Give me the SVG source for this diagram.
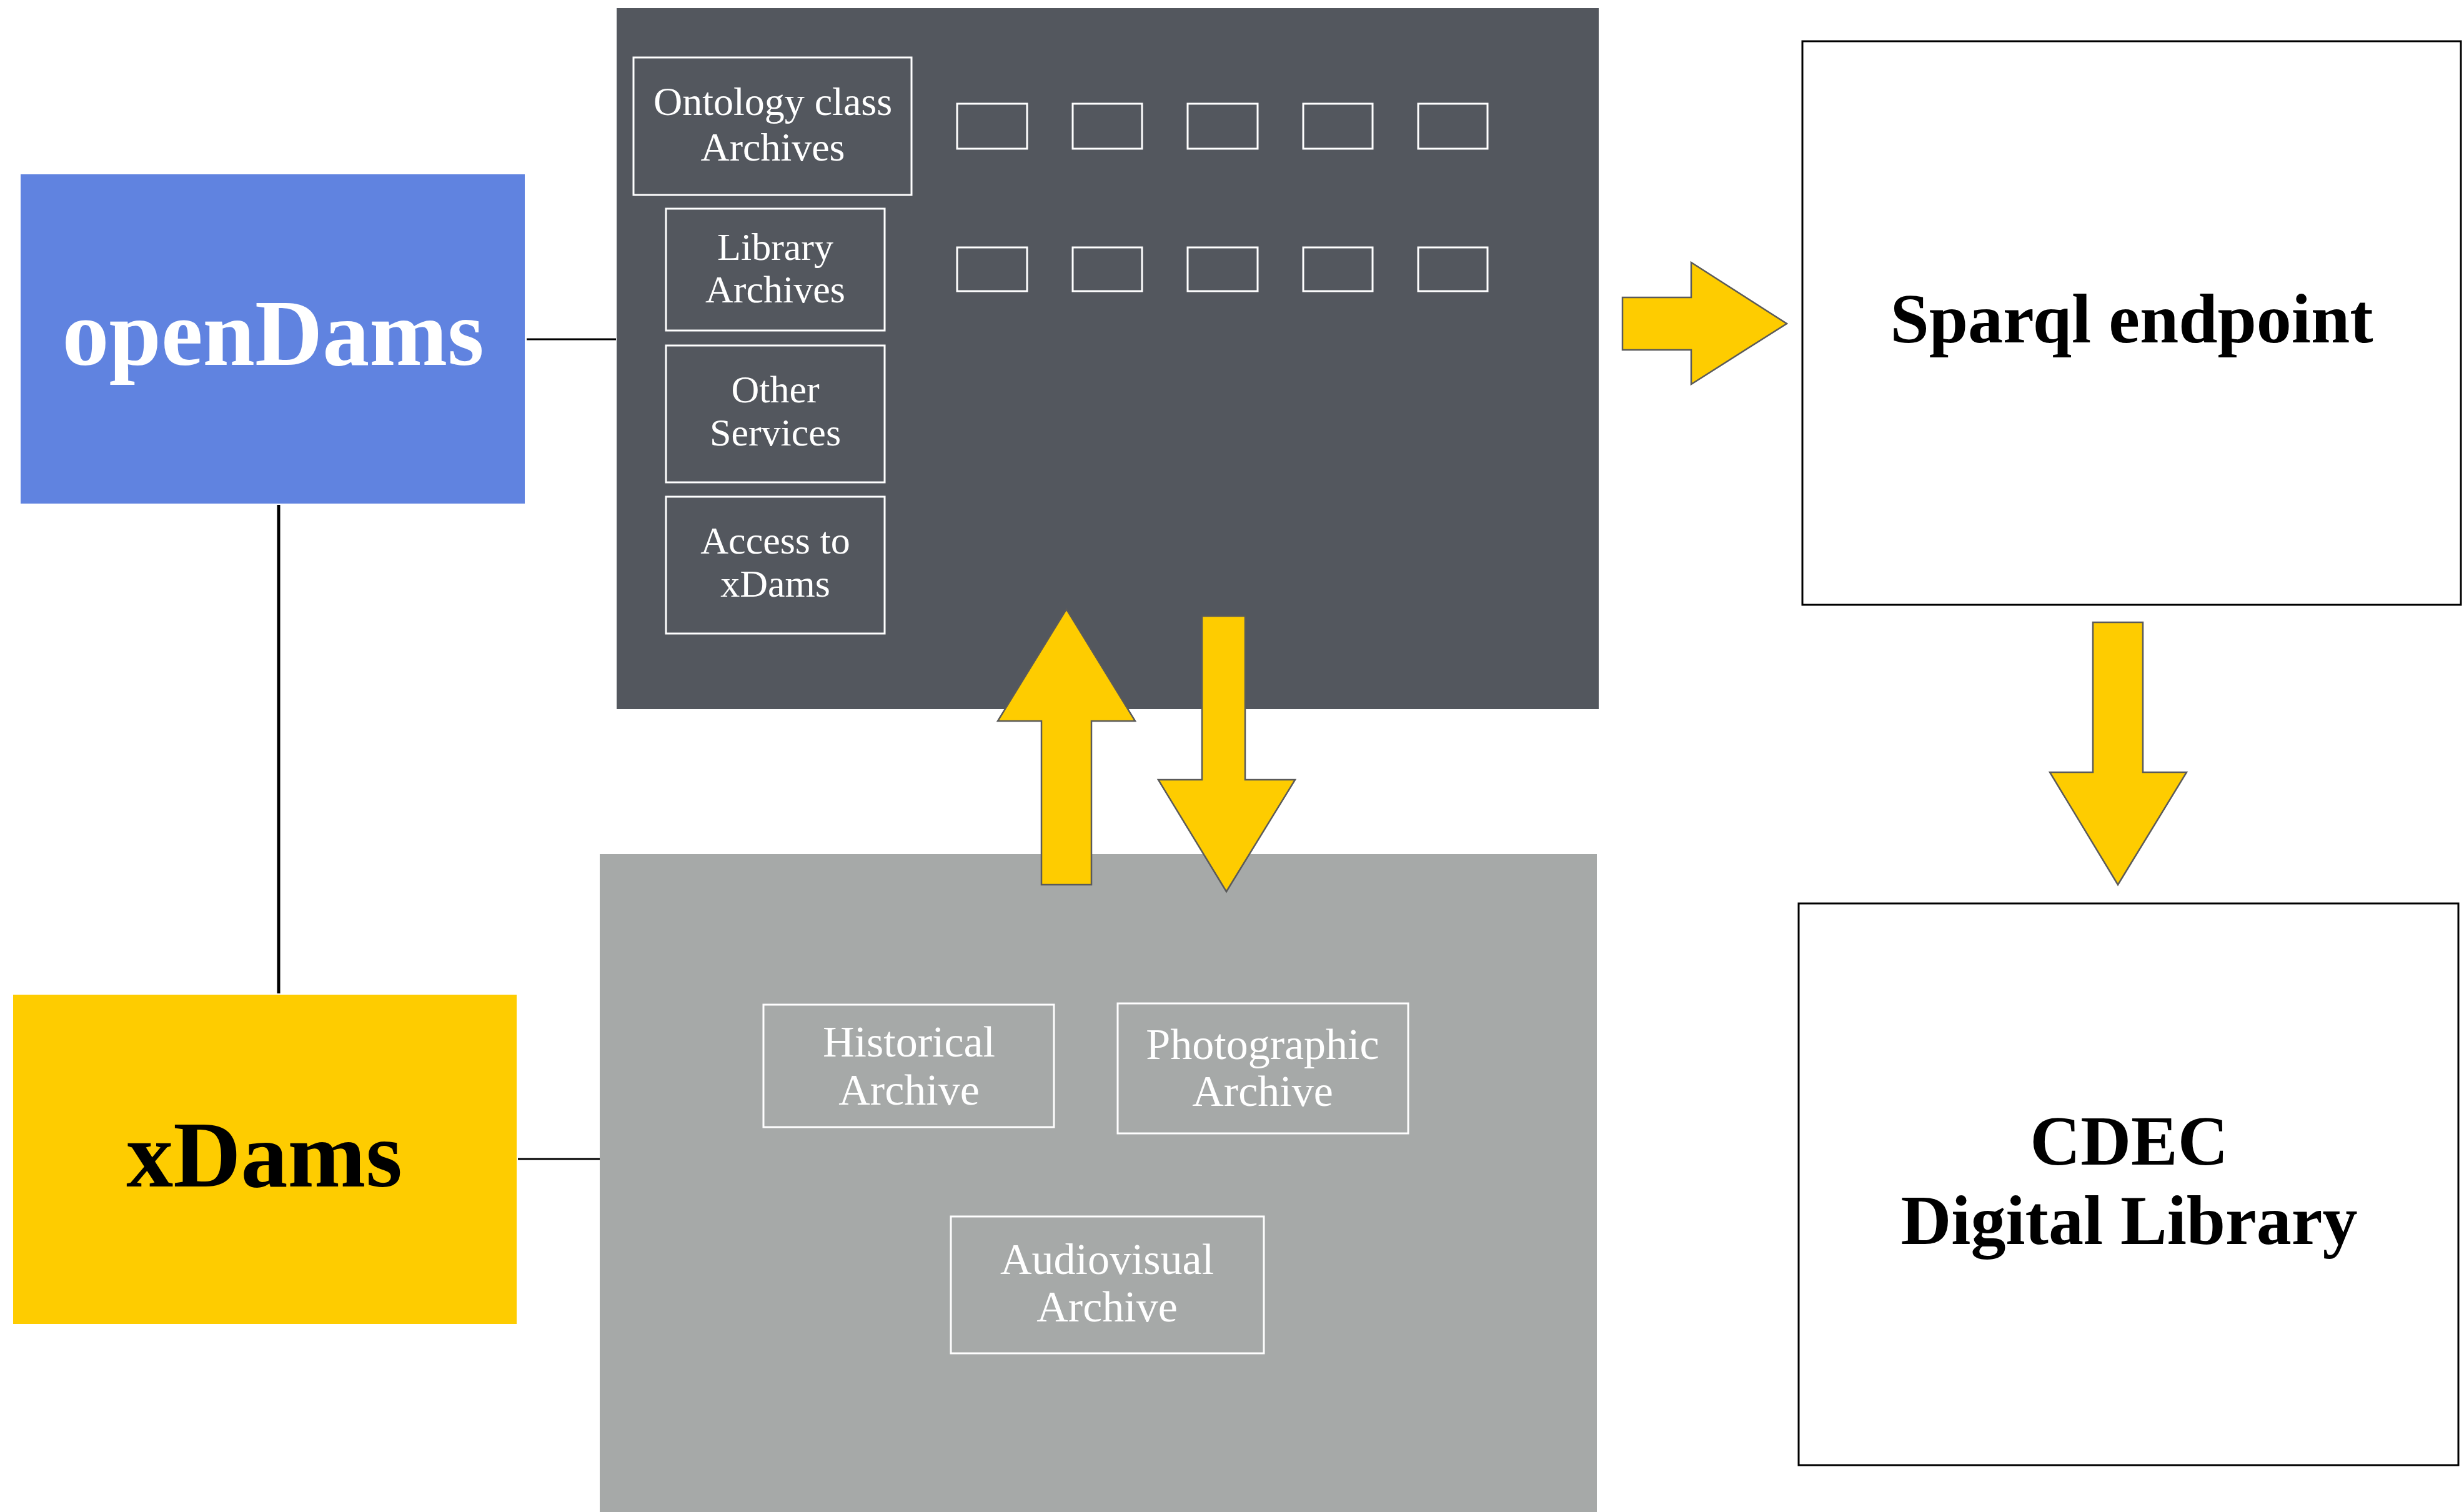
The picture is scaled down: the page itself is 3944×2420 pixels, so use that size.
<svg xmlns="http://www.w3.org/2000/svg" width="3944" height="2420" viewBox="0 0 3944 2420">
<style>
  text { font-family: "Liberation Serif", "Times New Roman", serif; text-anchor: middle; }
  .wbox { fill: none; stroke: #ffffff; stroke-width: 3; }
  .sq { fill: none; stroke: #ffffff; stroke-width: 3; }
  .wt { fill: #ffffff; }
  .bt { fill: #000000; }
  .frame { fill: #ffffff; stroke: #000000; stroke-width: 3; }
  .link { stroke: #000000; fill: none; }
  .arrow { fill: #fecc00; stroke: #5a5a5a; stroke-width: 2.5; stroke-linejoin: miter; }
</style>
<rect width="3944" height="2420" fill="#ffffff"/>

<g id="connectors">
  <line class="link" x1="843" y1="543" x2="986" y2="543" stroke-width="3"/>
  <line class="link" x1="446" y1="808" x2="446" y2="1590" stroke-width="5"/>
  <line class="link" x1="829" y1="1855" x2="960" y2="1855" stroke-width="3"/>
</g>

<g id="opendams">
  <rect x="33" y="279" width="807" height="527" fill="#6083e0"/>
  <text x="437" y="584" class="wt" font-size="150" font-weight="bold">openDams</text>
</g>

<g id="xdams">
  <rect x="21" y="1592" width="806" height="527" fill="#fecc00"/>
  <text x="423" y="1899" class="bt" font-size="150" font-weight="bold">xDams</text>
</g>

<g id="opendams-panel">
  <rect x="987" y="13" width="1572" height="1122" fill="#53575e"/>
  <g id="ontology-class">
    <rect class="wbox" x="1014" y="92" width="445" height="220"/>
    <text class="wt" font-size="64" x="1237" y="184">Ontology class</text>
    <text class="wt" font-size="64" x="1237" y="257">Archives</text>
  </g>
  <g id="library-archives">
    <rect class="wbox" x="1066" y="334" width="350" height="195"/>
    <text class="wt" font-size="62" x="1241" y="416">Library</text>
    <text class="wt" font-size="62" x="1241" y="484">Archives</text>
  </g>
  <g id="other-services">
    <rect class="wbox" x="1066" y="553" width="350" height="219"/>
    <text class="wt" font-size="62" x="1241" y="644">Other</text>
    <text class="wt" font-size="62" x="1241" y="713">Services</text>
  </g>
  <g id="access-xdams">
    <rect class="wbox" x="1066" y="795" width="350" height="219"/>
    <text class="wt" font-size="62" x="1241" y="886">Access to</text>
    <text class="wt" font-size="62" x="1241" y="955">xDams</text>
  </g>
  <g id="class-slots">
    <rect class="sq" x="1532" y="166" width="112" height="72"/>
    <rect class="sq" x="1717" y="166" width="111" height="72"/>
    <rect class="sq" x="1901" y="166" width="112" height="72"/>
    <rect class="sq" x="2086" y="166" width="111" height="72"/>
    <rect class="sq" x="2270" y="166" width="111" height="72"/>
    <rect class="sq" x="1532" y="396" width="112" height="70"/>
    <rect class="sq" x="1717" y="396" width="111" height="70"/>
    <rect class="sq" x="1901" y="396" width="112" height="70"/>
    <rect class="sq" x="2086" y="396" width="111" height="70"/>
    <rect class="sq" x="2270" y="396" width="111" height="70"/>
  </g>
</g>

<g id="xdams-panel">
  <rect x="960" y="1367" width="1596" height="1053" fill="#a6a9a8"/>
  <g id="historical-archive">
    <rect class="wbox" x="1222" y="1608" width="465" height="196"/>
    <text class="wt" font-size="70" x="1455" y="1691">Historical</text>
    <text class="wt" font-size="70" x="1455" y="1768">Archive</text>
  </g>
  <g id="photographic-archive">
    <rect class="wbox" x="1789" y="1606" width="465" height="208"/>
    <text class="wt" font-size="70" x="2021" y="1695">Photographic</text>
    <text class="wt" font-size="70" x="2021" y="1770">Archive</text>
  </g>
  <g id="audiovisual-archive">
    <rect class="wbox" x="1522" y="1947" width="501" height="219"/>
    <text class="wt" font-size="70" x="1772" y="2039">Audiovisual</text>
    <text class="wt" font-size="70" x="1772" y="2115">Archive</text>
  </g>
</g>

<g id="sparql">
  <rect class="frame" x="2885" y="66" width="1054" height="902"/>
  <text class="bt" font-size="112" font-weight="bold" x="3412" y="548">Sparql endpoint</text>
</g>

<g id="cdec">
  <rect class="frame" x="2879" y="1446" width="1056" height="899"/>
  <text class="bt" font-size="112" font-weight="bold" x="3408" y="1864">CDEC</text>
  <text class="bt" font-size="112" font-weight="bold" x="3408" y="1991">Digital Library</text>
</g>

<g id="arrows">
  <polygon class="arrow" stroke="#000000" points="1707,975 1817,1154 1747,1154 1747,1416 1667,1416 1667,1154 1597,1154"/>
  <polygon class="arrow" points="1924,986 1993,986 1993,1248 2073,1248 1963,1427 1854,1248 1924,1248"/>
  <polygon class="arrow" points="2597,476 2707,476 2707,420 2860,518 2707,615 2707,560 2597,560"/>
  <polygon class="arrow" points="3350,996 3430,996 3430,1236 3500,1236 3390,1416 3281,1236 3350,1236"/>
</g>
</svg>
